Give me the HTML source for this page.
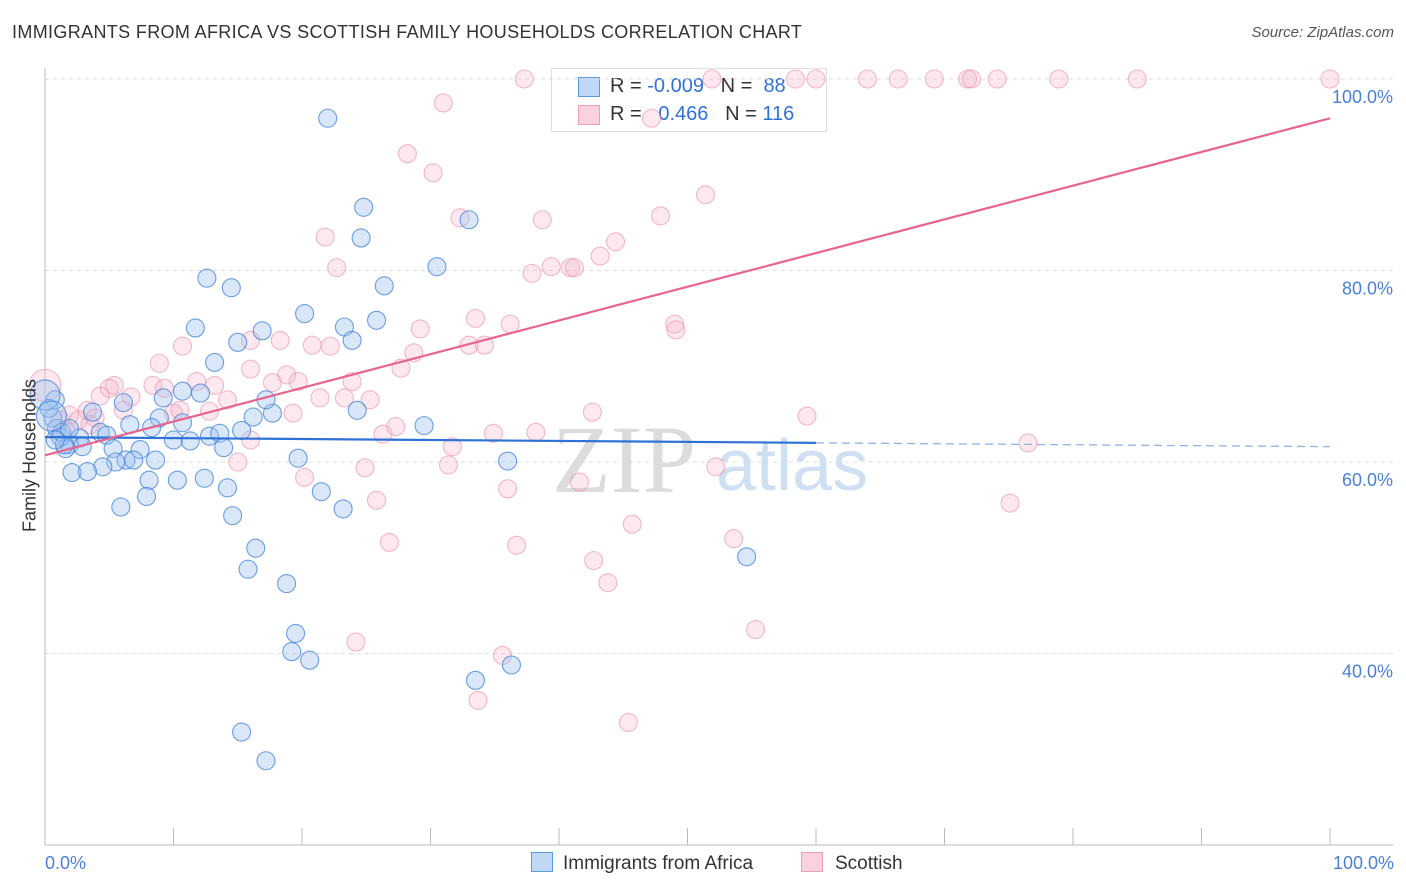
<!DOCTYPE html>
<html><head><meta charset="utf-8"><style>
body{margin:0;background:#fff;font-family:"Liberation Sans",sans-serif;}
#wrap{position:relative;width:1406px;height:892px;overflow:hidden;}
.t{position:absolute;white-space:nowrap;}
</style></head><body>
<div id="wrap">
<div class="t" style="left:12px;top:22px;font-size:18px;letter-spacing:0.35px;color:#333;">IMMIGRANTS FROM AFRICA VS SCOTTISH FAMILY HOUSEHOLDS CORRELATION CHART</div>
<div class="t" style="right:12px;top:24px;font-size:15px;color:#555;font-style:italic;">Source: ZipAtlas.com</div>
<div style="position:absolute;left:551px;top:68px;width:274px;height:62px;border:1px solid #ddd;background:#fff;font-size:20px;color:#333;">
 <div style="position:absolute;left:26px;top:8px;width:20px;height:18px;background:rgba(150,190,240,0.6);border:1px solid #5b9be0;"></div>
 <div class="t" style="left:58px;top:6px;">R = <span style="color:#2f72d6">-0.009</span>&nbsp;&nbsp;&nbsp;N = &nbsp;<span style="color:#2f72d6">88</span></div>
 <div style="position:absolute;left:26px;top:36px;width:20px;height:18px;background:rgba(246,180,200,0.6);border:1px solid #eea0b8;"></div>
 <div class="t" style="left:58px;top:34px;">R = &nbsp;&nbsp;<span style="color:#2f72d6">0.466</span>&nbsp;&nbsp;&nbsp;N = <span style="color:#2f72d6">116</span></div>
</div>
<svg id="svg" width="1406" height="892" style="position:absolute;left:0;top:0"></svg>
</div>
<script>
const blueX=[22.0,24.8,24.6,33.0,30.5,12.6,14.5,26.4,20.2,11.7,16.9,23.3,25.8,23.9,15.0,13.2,10.7,9.2,12.1,16.2,17.7,17.2,24.3,29.5,6.1,3.7,8.9,10.7,6.6,8.3,10.0,11.3,12.8,15.3,13.6,13.9,7.4,4.3,4.8,2.7,1.9,2.9,1.6,5.3,6.3,6.9,5.5,8.6,4.5,2.1,3.3,19.7,36.0,8.1,10.3,12.4,14.2,7.9,21.5,23.2,5.9,14.6,16.4,15.8,18.8,54.6,19.5,19.2,20.6,33.5,36.3,15.3,17.2,0.8,0.6,0.9,1.2,1.3,0.3,1.5,1.9,0.8];
const blueY=[95.9,86.6,83.4,85.3,80.4,79.2,78.2,78.4,75.5,74.0,73.7,74.1,74.8,72.7,72.5,70.4,67.4,66.7,67.2,64.7,65.1,66.5,65.4,63.8,66.2,65.2,64.6,64.1,63.9,63.6,62.3,62.2,62.7,63.3,63.0,61.5,61.3,63.1,62.8,62.5,61.8,61.6,61.4,61.4,60.2,60.2,60.0,60.2,59.5,58.9,59.0,60.4,60.1,58.1,58.1,58.3,57.3,56.4,56.9,55.1,55.3,54.4,51.0,48.8,47.3,50.1,42.1,40.2,39.3,37.2,38.8,31.8,28.8,66.5,64.6,63.5,62.6,63.1,65.6,61.8,63.5,62.3];
const pinkX=[37.3,51.9,58.4,60.0,64.0,66.4,69.2,71.8,72.1,74.1,78.9,85.0,100,31.0,47.2,28.2,30.2,51.4,32.3,38.7,47.9,44.4,21.8,43.2,22.7,37.9,39.4,40.9,41.2,33.5,29.2,36.2,49.0,49.1,10.7,16.0,20.8,22.2,18.3,33.0,34.2,28.7,8.9,16.0,27.7,18.8,5.4,5.0,8.4,9.3,11.8,13.2,17.7,19.7,23.9,14.2,21.4,23.3,25.3,6.7,6.1,10.0,10.5,12.8,19.3,42.6,59.3,4.3,3.3,1.9,2.6,3.9,1.2,1.6,3.5,16.0,26.3,27.3,31.7,34.9,38.2,76.5,15.0,24.9,20.2,31.4,52.2,41.6,36.0,25.8,75.1,45.7,26.8,36.7,53.6,42.7,43.8,24.2,35.6,55.3,33.7,45.4];
const pinkY=[100,100,100,100,100,100,100,100,100,100,100,100,100,97.5,95.9,92.2,90.2,87.9,85.5,85.3,85.7,83.0,83.5,81.5,80.3,79.7,80.4,80.3,80.3,75.0,73.9,74.4,74.4,73.8,72.1,72.7,72.2,72.1,72.7,72.2,72.2,71.4,70.3,69.7,69.8,69.1,68.0,67.7,68.0,67.7,68.4,68.0,68.3,68.4,68.4,66.5,66.7,66.7,66.5,66.8,65.4,65.1,65.4,65.3,65.1,65.2,64.8,66.9,65.4,64.9,64.4,64.6,64.4,63.3,63.9,62.3,62.9,63.7,61.6,63.0,63.1,62.0,60.0,59.4,58.4,59.7,59.5,57.9,57.2,56.0,55.7,53.5,51.6,51.3,52.0,49.7,47.4,41.2,39.8,42.5,35.1,32.8];
const bigBlue=[[0,67.0],[0.5,64.8]];
const bigPink=[[0,68.0]];
const blueTrend=[62.6,61.6];
const pinkTrend=[60.7,95.9];
const yTicks=[100,80,60,40];
const yTickLabels=["100.0%","80.0%","60.0%","40.0%"];
const xTicks=[0,10,20,30,40,50,60,70,80,90,100];

const X=v=>45+v*12.85;
const Y=v=>79+(100-v)*9.575;
const svg=document.getElementById('svg');
const NS='http://www.w3.org/2000/svg';
function mk(tag,attrs,parent){const e=document.createElementNS(NS,tag);for(const k in attrs)e.setAttribute(k,attrs[k]);(parent||svg).appendChild(e);return e;}

yTicks.forEach((v,i)=>{
  const g=mk('line',{x1:45,x2:1393,y1:Y(v),y2:Y(v),stroke:'#ddd','stroke-dasharray':'4,4'});
  
  
  const t=mk('text',{x:1393,y:Y(v)+24,'text-anchor':'end','font-size':18,fill:'#4a80d6','font-family':'Liberation Sans, sans-serif'});
  t.textContent=yTickLabels[i];
  
  
});
const ax=mk('line',{x1:45,x2:45,y1:68,y2:845,stroke:'#bbb'});


const bx=mk('line',{x1:45,x2:1393,y1:845,y2:845,stroke:'#bbb'});


xTicks.forEach(v=>{
  const l=mk('line',{x1:X(v),x2:X(v),y1:828,y2:845,stroke:'#bbb'});
  
  
});
const w1=mk('text',{x:552,y:492,'font-size':96,fill:'#dcdcdc','font-family':'Liberation Serif, serif'});
w1.textContent='ZIP';


const w2=mk('text',{x:716,y:490,'font-size':72,fill:'#cfe0f3','font-family':'Liberation Sans, sans-serif'});
w2.textContent='atlas';



function dot(x,y,r,c,name){
  const d=mk('circle',{cx:X(x),cy:Y(y),r:r,fill:c[0],stroke:c[1],'stroke-width':1.1});
  
  
}
const PC=['rgba(246,180,200,0.3)','rgba(236,140,170,0.6)'];
const BC=['rgba(160,196,240,0.4)','rgba(60,130,220,0.75)'];
pinkX.forEach((x,i)=>dot(x,pinkY[i],9,PC,'scottish-point'));
bigPink.forEach(p=>dot(p[0],p[1],16,PC,'scottish-point'));
blueX.forEach((x,i)=>dot(x,blueY[i],9,BC,'africa-point'));
bigBlue.forEach(p=>dot(p[0],p[1],15,BC,'africa-point'));

const bAt=v=>blueTrend[0]+(blueTrend[1]-blueTrend[0])*v/100;
const l1=mk('line',{x1:X(0),y1:Y(bAt(0)),x2:X(60),y2:Y(bAt(60)),stroke:'#2f72d6','stroke-width':2.2});


const l2=mk('line',{x1:X(60),y1:Y(bAt(60)),x2:X(100),y2:Y(bAt(100)),stroke:'#8fb3e6','stroke-width':1.3,'stroke-dasharray':'8,5'});


const l3=mk('line',{x1:X(0),y1:Y(pinkTrend[0]),x2:X(100),y2:Y(pinkTrend[1]),stroke:'#e8648e','stroke-width':2.2});


</script>
<div class="t" style="left:-50px;top:445px;transform:rotate(-90deg);font-size:18px;color:#333;width:160px;text-align:center;">Family Households</div>
<div class="t" style="left:45px;top:853px;font-size:18px;color:#4a80d6;">0.0%</div>
<div class="t" style="right:12px;top:853px;font-size:18px;color:#4a80d6;">100.0%</div>
<div style="position:absolute;left:531px;top:852px;font-size:19px;color:#333;">
 <div style="position:absolute;left:0;top:0;white-space:nowrap;"><span style="display:inline-block;width:20px;height:18px;background:rgba(150,190,240,0.6);border:1px solid #5b9be0;vertical-align:-3px;margin-right:10px;"></span>Immigrants from Africa</div>
 <div style="position:absolute;left:270px;top:0;white-space:nowrap;"><span style="display:inline-block;width:20px;height:18px;background:rgba(246,180,200,0.6);border:1px solid #eea0b8;vertical-align:-3px;margin-right:12px;"></span>Scottish</div>
</div>
</body></html>
